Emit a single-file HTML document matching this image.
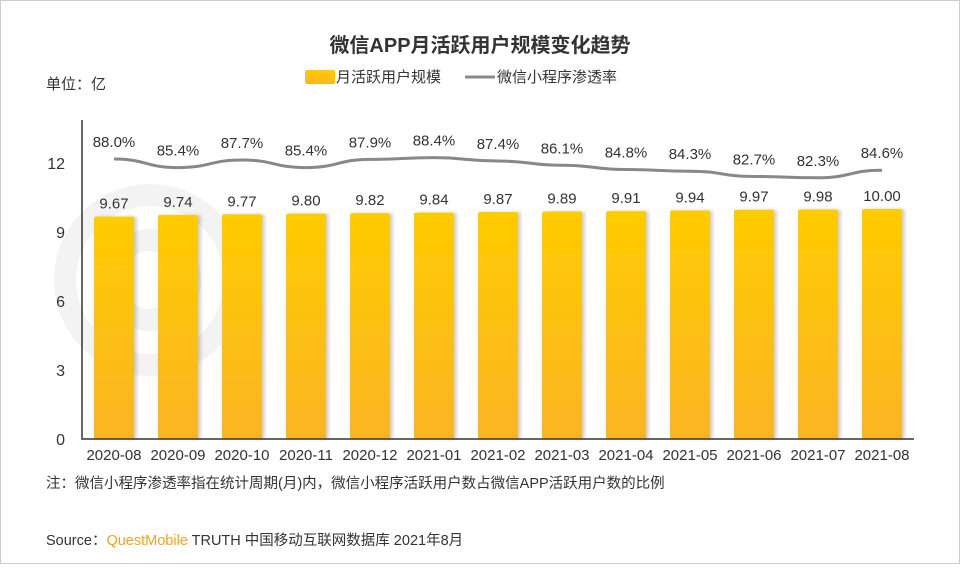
<!DOCTYPE html>
<html><head><meta charset="utf-8"><style>
body{margin:0;background:#fff;}
svg text{font-family:"Liberation Sans","Noto Sans CJK SC",sans-serif;}
</style></head><body>
<svg width="960" height="564" viewBox="0 0 960 564" xmlns="http://www.w3.org/2000/svg">
<defs>
<linearGradient id="bg" x1="0" y1="0" x2="0" y2="1"><stop offset="0" stop-color="#FFCC00"/><stop offset="1" stop-color="#FBB524"/></linearGradient>
<filter id="sh" x="-20%" y="-5%" width="150%" height="110%"><feDropShadow dx="3" dy="0" stdDeviation="1.5" flood-color="#000" flood-opacity="0.18"/></filter>
</defs>
<rect x="0.5" y="0.5" width="959" height="563" fill="#fff" stroke="#ccc"/>
<g fill="none" stroke="#f3f3f3" stroke-width="22">
<circle cx="150" cy="280" r="85"/><circle cx="150" cy="280" r="40"/>
</g>
<text x="480" y="52" text-anchor="middle" font-size="20" font-weight="bold" fill="#333">微信APP月活跃用户规模变化趋势</text>
<text x="46" y="89" font-size="15" fill="#333">单位：亿</text>
<g>
<rect x="305" y="70" width="30" height="14" rx="2" fill="url(#bg)"/>
<text x="336" y="82" font-size="15" fill="#333">月活跃用户规模</text>
<line x1="465" y1="77" x2="495" y2="77" stroke="#888" stroke-width="3"/>
<text x="497" y="82" font-size="15" fill="#333">微信小程序渗透率</text>
</g>
<g id="plot"></g>
<text x="46" y="488" font-size="14.5" fill="#333">注：微信小程序渗透率指在统计周期(月)内，微信小程序活跃用户数占微信APP活跃用户数的比例</text>
<text x="46" y="545" font-size="14.5" fill="#333">Source：<tspan fill="#F7A21B">QuestMobile</tspan> TRUTH 中国移动互联网数据库 2021年8月</text>
</svg>
<script>
const categories=["2020-08","2020-09","2020-10","2020-11","2020-12","2021-01","2021-02","2021-03","2021-04","2021-05","2021-06","2021-07","2021-08"];
const mau=[9.67,9.74,9.77,9.80,9.82,9.84,9.87,9.89,9.91,9.94,9.97,9.98,10.00];
const mauLabels=["9.67","9.74","9.77","9.80","9.82","9.84","9.87","9.89","9.91","9.94","9.97","9.98","10.00"];
const rate=[88.0,85.4,87.7,85.4,87.9,88.4,87.4,86.1,84.8,84.3,82.7,82.3,84.6];
const yTicks=[0,3,6,9,12];
const NS="http://www.w3.org/2000/svg";
const g=document.getElementById('plot');
const X0=82,X1=914,Y0=439,PX=23;
const step=(X1-X0)/categories.length;
const xc=i=>X0+step*(i+0.5);
const y=v=>Y0-v*PX;
const yr=v=>159+(88-v)*3.3;
function mk(t,a,txt){const e=document.createElementNS(NS,t);for(const k in a)e.setAttribute(k,a[k]);if(txt!=null)e.textContent=txt;g.appendChild(e);return e;}
yTicks.forEach(v=>{
 const e=mk('text',{x:65,y:y(v)+6,'text-anchor':'end','font-size':16,fill:'#333'},String(v));
 
 
});
mau.forEach((v,i)=>{
 const r=mk('rect',{x:xc(i)-20,y:y(v),width:40,height:Y0-y(v),rx:2,fill:'url(#bg)',filter:'url(#sh)'});
 
 
 const t=mk('text',{x:xc(i),y:y(v)-8,'text-anchor':'middle','font-size':15,fill:'#333'},mauLabels[i]);
 
 
 const c=mk('text',{x:xc(i),y:460,'text-anchor':'middle','font-size':15,fill:'#333'},categories[i]);
 
 
});
let d='';
const pts=rate.map((v,i)=>[xc(i),yr(v)]);
pts.forEach((p,i)=>{
 if(i===0){d+='M'+p[0]+','+p[1];return;}
 const q=pts[i-1],dx=(p[0]-q[0])/2;
 d+=' C'+(q[0]+dx)+','+q[1]+' '+(p[0]-dx)+','+p[1]+' '+p[0]+','+p[1];
});
const ln=mk('path',{d:d,fill:'none',stroke:'#888',"stroke-width":3});


rate.forEach((v,i)=>{
 const t=mk('text',{x:xc(i),y:yr(v)-12,'text-anchor':'middle','font-size':15,fill:'#333'},v.toFixed(1)+'%');
 
 
});
const ax=mk('path',{d:'M'+X0+',120 V'+Y0+' H'+X1,fill:'none',stroke:'#333','stroke-width':1.5});


</script>
</body></html>
